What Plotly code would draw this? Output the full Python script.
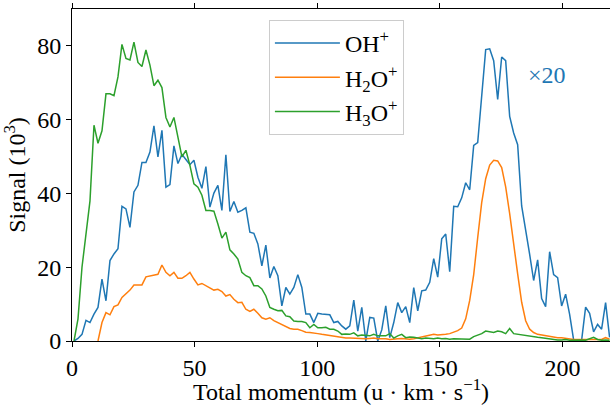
import numpy as np
import plotly.graph_objects as go

# bin centres of total momentum (u km/s)
bin_width = 1.63
n_bins = 135
momentum = np.round(bin_width / 2 + bin_width * np.arange(n_bins), 3)

oh_plus = [0, 0.7, 1.8, 5.6, 5.0, 7.3, 9.1, 16.8, 10.9, 21.8,
           23.6, 25, 36.5, 35.8, 30.8, 40.4, 42.2, 48.4, 48.4, 51.2,
           58.3, 49.9, 57.1, 41.7, 42.4, 52.9, 48.1, 50.6, 49.2, 47.8,
           49, 44.4, 41.4, 47.3, 36.3, 40.1, 42.2, 35.4, 50.5, 35.1,
           37.8, 34.9, 35.4, 36.1, 29.5, 29.2, 26.3, 20.4, 26, 17.1,
           20.2, 17.7, 9.5, 14.5, 12.7, 14.5, 18, 14.5, 7.3, 7.3,
           5, 7.5, 7.3, 7.3, 7.1, 5, 5.3, 4.1, 3.2, 4.1,
           11.1, 2.7, 9.1, 0, 6.4, 6.2, 0, 3, 9.5, 0.9,
           5, 10.4, 7.7, 9.3, 5, 14.5, 8.2, 13.6, 13.8, 15.9,
           22.3, 17.3, 27.7, 29, 18.8, 36.5, 36.4, 38.8, 42.9, 41,
           53, 53.8, 66.4, 79, 79.2, 76, 65.5, 77, 76, 60.9,
           56.4, 53.2, 36.6, 30.5, 23.5, 16.4, 22, 11.5, 9.3, 24.2,
           18, 17.2, 9.5, 12.7, 7.2, 0.3, 0, 0.2, 9.2, 7.5,
           2.5, 4.5, 3.2, 10.4, 1.0]

h2o_plus = [None, None, None, None, None, None, 0, 5.0, 7.7, 7.1,
            9.3, 9.8, 11.8, 12.7, 13.8, 15.2, 15.2, 15.2, 17.4, 17.6,
            17.9, 18.1, 20.6, 18.6, 17.7, 18.6, 17, 17, 17.7, 18.6,
            16.8, 15.2, 15.6, 15, 14.2, 13.8, 14.0, 13.4, 12.2, 12.6,
            11.3, 10.4, 10.5, 8.6, 8.0, 8.6, 7.5, 6.3, 5.9, 6.3,
            5.5, 5.0, 4.4, 3.8, 3.4, 3.2, 3.2, 2.8, 2.4, 2.3,
            2.2, 2.0, 1.8, 1.6, 1.4, 1.3, 1.0, 1.0, 0.8, 0.8,
            0.7, 0.6, 0.6, 0.6, 0.7, 0.8, 0.6, 0.7, 0.6, 0.4,
            0.4, 0.6, 0.7, 0.5, 0.5, 0.6, 0.8, 1.2, 1.4, 1.6,
            1.8, 1.6, 1.6, 1.8, 2.0, 2.3, 2.8, 3.5, 6.0, 11.0,
            18.0, 28.0, 37.5, 44.0, 47.7, 49.0, 48.8, 47.0, 41.8, 34.5,
            27.0, 18.2, 10.5, 5.5, 3.2, 2.3, 1.8, 1.6, 1.4, 1.3,
            1.1, 0.9, 0.9, 0.7, 0.5, 0.4, 0.4, 0.4, 0.4, 0.4,
            0.4, 0.5, 0.4, 0.9, 0.5]

h3o_plus = [0, 6, 20, 29, 38, 58.5, 53.6, 57, 67, 67,
            66.5, 71.6, 80.4, 76.6, 76.2, 81, 75.5, 74.4, 78.9, 74.8,
            69.2, 70.7, 68.7, 60.6, 58, 60.6, 55.3, 49.9, 51.7, 47.6,
            42.6, 41.7, 39.5, 35.4, 35.4, 35.2, 31.7, 27.9, 29.5, 24.7,
            23.6, 22.2, 18.6, 17.7, 17.2, 15, 15, 14.1, 12.2, 9.1,
            8.6, 8.2, 8.3, 6.8, 6.6, 5.4, 5.3, 5.3, 5.0, 3.6,
            4.5, 3.6, 3.6, 3.7, 3.2, 3.2, 2.7, 1.8, 1.9, 1.8,
            2.2, 1.4, 1.6, 1.5, 1.4, 1.8, 1.4, 1.4, 1.4, 2.0,
            0.8, 1.4, 1.8, 0.9, 1.1, 1.0, 0.8, 0.6, 0.8, 0.7,
            0.6, 0.8, 0.6, 0.7, 0.5, 0.6, 0.6, 0.5, 0.4, 0.5,
            1.2, 1.6, 2.0, 2.7, 2.4, 2.3, 2.7, 2.5, 2.0, 3.4,
            2.0, 1.8, 1.7, 1.5, 1.2, 1.1, 1.0, 0.9, 0.7, 0.6,
            0.4, 0.3, 0.3, 0.4, 0.2, 0.3, 0.2, 0.3, 0.2, 0.6,
            1.0, 0.4, 0.2, 0.3, 0.2]

series_names = ["OH<sup>+</sup>", "H<sub>2</sub>O<sup>+</sup>", "H<sub>3</sub>O<sup>+</sup>"]
series_colors = ["#1f77b4", "#ff7f0e", "#2ca02c"]
x_ticks = [0, 50, 100, 150, 200]
y_ticks = [0, 20, 40, 60, 80]

FONT = "Liberation Serif"
FS = 24

fig = go.Figure()
for name, vals, col in zip(series_names, [oh_plus, h2o_plus, h3o_plus], series_colors):
    fig.add_trace(go.Scatter(x=momentum, y=vals, mode="lines", name=name,
                             line=dict(color=col, width=1.5)))

fig.add_annotation(x=193.7, y=72, text="×20", showarrow=False,
                   font=dict(family=FONT, size=FS, color="#1f77b4"))

axis_common = dict(showline=True, linecolor="black", linewidth=1.1,
                   ticks="outside", tickcolor="black", ticklen=5, tickwidth=1.1,
                   showgrid=False, zeroline=False,
                   tickfont=dict(family=FONT, size=FS, color="black"))

fig.update_layout(
    width=610, height=405,
    margin=dict(l=72, r=0, t=9, b=64),
    paper_bgcolor="white", plot_bgcolor="white",
    font=dict(family=FONT, size=FS, color="black"),
    xaxis=dict(range=[0, 219.4], tickvals=x_ticks, mirror="ticks",
               title=dict(text="Total momentum (u · km · s<sup>−1</sup>)", standoff=0,
                          font=dict(family=FONT, size=FS)),
               **axis_common),
    yaxis=dict(range=[0, 90], tickvals=y_ticks,
               title=dict(text="Signal (10<sup>3</sup>)", standoff=6,
                          font=dict(family=FONT, size=FS)),
               **axis_common),
    legend=dict(x=0.366, y=0.967, xanchor="left", yanchor="top",
                bgcolor="white", bordercolor="#cccccc", borderwidth=1,
                itemwidth=65,
                font=dict(family=FONT, size=FS), tracegroupgap=0),
    showlegend=True,
)

fig.write_html("out.html")
